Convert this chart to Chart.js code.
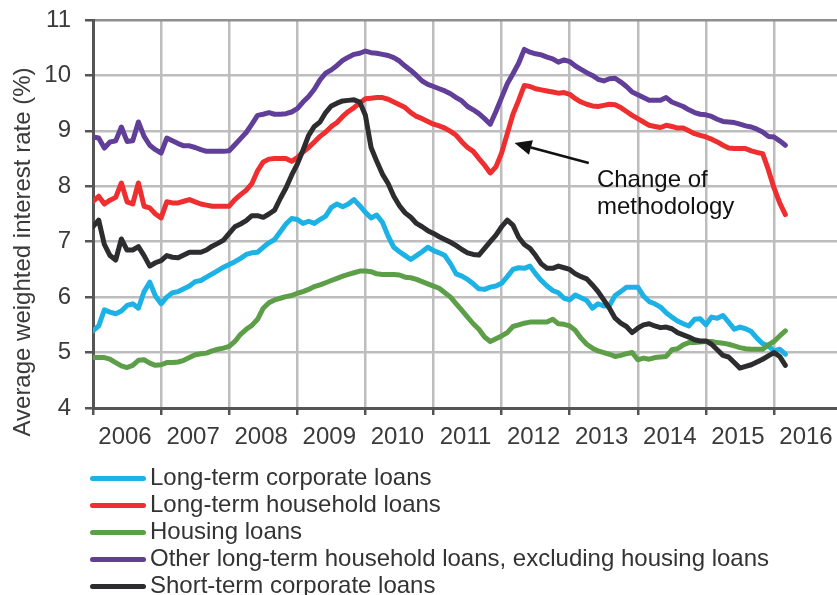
<!DOCTYPE html>
<html><head><meta charset="utf-8">
<script src="https://cdn.jsdelivr.net/npm/chart.js@4/dist/chart.umd.min.js"></script>
<style>
html,body{margin:0;padding:0;background:#fff;}
#wrap{position:relative;width:837px;height:595px;overflow:hidden;font-family:"Liberation Sans",Arial,sans-serif;}
#c{position:absolute;left:0;top:0;}
#legend{position:absolute;left:90px;top:463px;}
.row{display:flex;align-items:center;height:27px;font-size:24px;color:#333;white-space:nowrap;}
.sw{width:56px;height:5px;border-radius:3px;margin-right:4px;margin-top:4px;flex:none;}
</style></head><body>
<div id="wrap"><canvas id="c" width="837" height="595"></canvas><div id="legend"></div></div>
<script>
// ---- data (monthly, Jan 2006 - Mar 2016) ----
const startYear = 2006;
const yearTicks = [2006, 2007, 2008, 2009, 2010, 2011, 2012, 2013, 2014, 2015, 2016];
const yTitle = 'Average weighted interest rate (%)';
const seriesNames = [
  'Long-term corporate loans',
  'Long-term household loans',
  'Housing loans',
  'Other long-term household loans, excluding housing loans',
  'Short-term corporate loans'
];
const seriesColors = ['#1db2e6', '#ee2e2f', '#5d9f48', '#613f99', '#2d2d30'];

const longTermCorporate = [
  5.39, 5.48, 5.77, 5.73, 5.70, 5.75, 5.85, 5.88, 5.80, 6.10, 6.27, 6.02,
  5.88, 6.00, 6.08, 6.10, 6.15, 6.20, 6.28, 6.30, 6.36, 6.42, 6.48, 6.54,
  6.59, 6.64, 6.70, 6.77, 6.80, 6.81, 6.90, 6.98, 7.04, 7.18, 7.32, 7.42,
  7.40, 7.33, 7.37, 7.33, 7.40, 7.46, 7.62, 7.68, 7.63, 7.68, 7.76, 7.65,
  7.53, 7.43, 7.48, 7.35, 7.10, 6.90, 6.82, 6.75, 6.68, 6.75, 6.82, 6.90,
  6.84, 6.80, 6.75, 6.60, 6.42, 6.38, 6.32, 6.24, 6.15, 6.14, 6.18, 6.20,
  6.25, 6.37, 6.50, 6.53, 6.52, 6.56, 6.42, 6.30, 6.20, 6.12, 6.08, 5.98,
  5.95, 6.04, 5.99, 5.94, 5.80, 5.88, 5.84, 5.85, 6.03, 6.10, 6.18, 6.18,
  6.18, 6.02, 5.92, 5.88, 5.82, 5.72, 5.64, 5.57, 5.52, 5.48, 5.60, 5.61,
  5.50, 5.64, 5.62, 5.67, 5.55, 5.42, 5.46, 5.43, 5.38, 5.26, 5.16, 5.12,
  5.03, 5.06, 4.97
];
const longTermHousehold = [
  7.73, 7.82, 7.68, 7.75, 7.80, 8.06, 7.72, 7.68, 8.06, 7.64, 7.61, 7.50,
  7.43, 7.72, 7.70, 7.70, 7.73, 7.76, 7.72, 7.68, 7.66, 7.64, 7.64, 7.64,
  7.64, 7.76, 7.85, 7.93, 8.05, 8.28, 8.44, 8.49, 8.50, 8.50, 8.50, 8.45,
  8.52, 8.62, 8.70, 8.80, 8.90, 8.98, 9.08, 9.15, 9.26, 9.35, 9.42, 9.50,
  9.58, 9.59, 9.60, 9.60, 9.57, 9.52, 9.47, 9.42, 9.33, 9.26, 9.22, 9.17,
  9.12, 9.09, 9.05, 8.99, 8.92, 8.80, 8.70, 8.63, 8.50, 8.38, 8.24, 8.35,
  8.60, 8.95, 9.30, 9.55, 9.82, 9.80, 9.76, 9.74, 9.72, 9.70, 9.68, 9.69,
  9.66, 9.58, 9.52, 9.48, 9.45, 9.44, 9.46, 9.48, 9.47, 9.42, 9.35, 9.28,
  9.22, 9.16, 9.10, 9.08, 9.06, 9.10, 9.08, 9.05, 9.05, 9.00, 8.95, 8.92,
  8.89, 8.85, 8.80, 8.74, 8.69, 8.68, 8.68, 8.68, 8.64, 8.61, 8.59, 8.30,
  7.97, 7.70, 7.49
];
const housing = [
  4.91, 4.91, 4.91, 4.88, 4.82, 4.76, 4.73, 4.77, 4.86, 4.87, 4.81, 4.77,
  4.78, 4.82, 4.82, 4.83, 4.86, 4.91, 4.96, 4.98, 4.99, 5.03, 5.06, 5.08,
  5.11, 5.20, 5.33, 5.42, 5.49, 5.60, 5.80, 5.90, 5.95, 5.98, 6.01, 6.03,
  6.07, 6.10, 6.14, 6.19, 6.22, 6.26, 6.30, 6.34, 6.38, 6.41, 6.44, 6.47,
  6.47, 6.46, 6.42, 6.41, 6.41, 6.41, 6.40, 6.36, 6.35, 6.32, 6.28, 6.24,
  6.20, 6.16, 6.08, 6.00, 5.88, 5.76, 5.64, 5.52, 5.42, 5.28, 5.20, 5.25,
  5.30, 5.36, 5.47, 5.50, 5.53, 5.55, 5.55, 5.55, 5.55, 5.60, 5.52, 5.51,
  5.48, 5.40, 5.26, 5.15, 5.08, 5.03, 5.00, 4.97, 4.93, 4.95, 4.98, 5.00,
  4.87, 4.90, 4.88, 4.91, 4.92, 4.93, 5.05, 5.07, 5.14, 5.18, 5.18, 5.19,
  5.20, 5.20, 5.18, 5.17, 5.15, 5.12, 5.09, 5.07, 5.06, 5.06, 5.06, 5.14,
  5.20, 5.30, 5.39
];
const otherHousehold = [
  8.89, 8.87, 8.69, 8.80, 8.82, 9.07, 8.81, 8.82, 9.16, 8.90, 8.74, 8.66,
  8.60, 8.87, 8.82, 8.77, 8.73, 8.73, 8.70, 8.66, 8.63, 8.63, 8.63, 8.63,
  8.64, 8.75, 8.86, 8.97, 9.12, 9.28, 9.30, 9.33, 9.30, 9.30, 9.31, 9.34,
  9.40, 9.52, 9.62, 9.75, 9.92, 10.04, 10.10, 10.18, 10.27, 10.33, 10.38, 10.40,
  10.44, 10.41, 10.40, 10.38, 10.36, 10.32, 10.26, 10.17, 10.09, 10.00, 9.90, 9.84,
  9.80, 9.76, 9.72, 9.67, 9.60, 9.54, 9.44, 9.38, 9.31, 9.22, 9.12, 9.35,
  9.60, 9.85, 10.03, 10.22, 10.47, 10.42, 10.39, 10.37, 10.33, 10.30, 10.24, 10.28,
  10.25, 10.17, 10.11, 10.05, 10.00, 9.93, 9.90, 9.94, 9.95, 9.88, 9.80, 9.70,
  9.65, 9.60, 9.55, 9.55, 9.55, 9.60, 9.52, 9.48, 9.44, 9.38, 9.33, 9.30,
  9.29, 9.26, 9.21, 9.17, 9.16, 9.15, 9.12, 9.09, 9.07, 9.03, 8.98, 8.90,
  8.89, 8.82, 8.74
];
const shortTermCorporate = [
  7.27, 7.39, 6.95, 6.75, 6.67, 7.05, 6.85, 6.85, 6.91, 6.75, 6.56, 6.62,
  6.66, 6.75, 6.72, 6.71, 6.76, 6.81, 6.81, 6.81, 6.85, 6.92, 6.97, 7.03,
  7.15, 7.27, 7.32, 7.38, 7.47, 7.47, 7.44, 7.50, 7.57, 7.78, 7.97, 8.20,
  8.40, 8.65, 8.92, 9.08, 9.16, 9.33, 9.45, 9.50, 9.54, 9.55, 9.56, 9.52,
  9.28, 8.70, 8.45, 8.22, 8.05, 7.82, 7.65, 7.52, 7.44, 7.33, 7.27, 7.20,
  7.15, 7.09, 7.04, 6.99, 6.93, 6.86, 6.80, 6.77, 6.76, 6.88, 7.00, 7.12,
  7.27, 7.39, 7.30, 7.08, 6.95, 6.88, 6.75, 6.60, 6.52, 6.52, 6.56, 6.53,
  6.50, 6.42, 6.37, 6.33, 6.22, 6.10, 5.95, 5.80, 5.62, 5.53, 5.47, 5.36,
  5.44, 5.50, 5.52, 5.48, 5.45, 5.46, 5.43, 5.36, 5.32, 5.28, 5.23, 5.21,
  5.21, 5.15, 5.05, 4.95, 4.92, 4.82, 4.72, 4.75, 4.78, 4.83, 4.88, 4.94,
  5.00, 4.93, 4.77
];
const seriesValues = [longTermCorporate, longTermHousehold, housing, otherHousehold, shortTermCorporate];

// annotation (data coordinates)
const noteTip = [2012.19, 8.78];
const noteTail = [2013.28, 8.42];
const noteTextAt = [2013.40, 7.99];
const noteText = ['Change of', 'methodology'];

// ---- chart ----
const FONT = '"Liberation Sans", Arial, Helvetica, sans-serif';
Chart.defaults.font.family = FONT;

const datasets = seriesValues.map((vals, i) => ({
  label: seriesNames[i],
  data: vals.map((v, k) => ({ x: startYear + k / 12, y: v })),
  borderColor: seriesColors[i],
  backgroundColor: seriesColors[i],
  borderWidth: 5,
  pointRadius: 0,
  tension: 0,
  borderJoinStyle: 'round',
  borderCapStyle: 'round',
  fill: false,
  order: seriesValues.length - 1 - i
}));

const noteAndTitle = {
  id: 'noteAndTitle',
  afterDatasetsDraw(chart) {
    const { ctx, scales: { x, y } } = chart;
    const tx = x.getPixelForValue(noteTip[0]), ty = y.getPixelForValue(noteTip[1]);
    const sx = x.getPixelForValue(noteTail[0]), sy = y.getPixelForValue(noteTail[1]);
    const ang = Math.atan2(ty - sy, tx - sx);
    const head = 17, half = 7.5;
    const bx = tx - head * Math.cos(ang), by = ty - head * Math.sin(ang);
    ctx.save();
    ctx.strokeStyle = '#111'; ctx.fillStyle = '#111'; ctx.lineWidth = 2.6;
    ctx.beginPath(); ctx.moveTo(sx, sy); ctx.lineTo(bx, by); ctx.stroke();
    ctx.beginPath();
    ctx.moveTo(tx, ty);
    ctx.lineTo(bx + half * Math.sin(ang), by - half * Math.cos(ang));
    ctx.lineTo(bx - half * Math.sin(ang), by + half * Math.cos(ang));
    ctx.closePath(); ctx.fill();
    ctx.font = '24px ' + FONT;
    ctx.textAlign = 'left'; ctx.textBaseline = 'alphabetic';
    const lx = x.getPixelForValue(noteTextAt[0]), ly = y.getPixelForValue(noteTextAt[1]);
    noteText.forEach((t, i) => ctx.fillText(t, lx, ly + i * 27));
    ctx.restore();
  },
  afterDraw(chart) {
    const { ctx, chartArea } = chart;
    ctx.save();
    ctx.fillStyle = '#3a3a3a';
    ctx.font = '24px ' + FONT;
    ctx.textAlign = 'center'; ctx.textBaseline = 'middle';
    ctx.translate(chartArea.left - 70, (chartArea.top + chartArea.bottom) / 2 + 38);
    ctx.rotate(-Math.PI / 2);
    ctx.fillText(yTitle, 0, 0);
    ctx.restore();
  }
};

new Chart(document.getElementById('c'), {
  type: 'line',
  data: { datasets },
  plugins: [noteAndTitle],
  options: {
    responsive: false,
    animation: false,
    devicePixelRatio: 1,
    layout: { padding: { top: 20, right: 0, left: 0, bottom: 0 } },
    plugins: { legend: { display: false }, tooltip: { enabled: false } },
    scales: {
      x: {
        type: 'linear',
        min: 2006,
        max: 2016.925,
        afterBuildTicks: s => { s.ticks = yearTicks.map(v => ({ value: v })); },
        afterFit: s => { s.height = 187; s.paddingLeft = 0; s.paddingRight = 0; },
        grid: { color: '#bdbdbd', lineWidth: 2.5, tickLength: 7, tickColor: '#555' },
        border: { color: '#555', width: 3 },
        ticks: {
          labelOffset: 32, padding: 8, color: '#3a3a3a', maxRotation: 0, autoSkip: false,
          font: { size: 24 }, callback: v => String(v)
        }
      },
      y: {
        min: 4, max: 11,
        afterFit: s => { s.width = 93; s.paddingTop = 0; s.paddingBottom = 0; },
        grid: {
          color: c => (c.tick && c.tick.value === 11) ? '#8f8f8f' : '#bdbdbd',
          lineWidth: 2.5, tickLength: 8, tickColor: '#555'
        },
        border: { color: '#555', width: 3 },
        ticks: { stepSize: 1, padding: 14, color: '#3a3a3a', font: { size: 24 } }
      }
    }
  }
});

// HTML legend built from the same series arrays
const leg = document.getElementById('legend');
seriesNames.forEach((n, i) => {
  const r = document.createElement('div'); r.className = 'row';
  const s = document.createElement('span'); s.className = 'sw'; s.style.background = seriesColors[i];
  const t = document.createElement('span'); t.textContent = n;
  r.appendChild(s); r.appendChild(t); leg.appendChild(r);
});
</script>
</body></html>
